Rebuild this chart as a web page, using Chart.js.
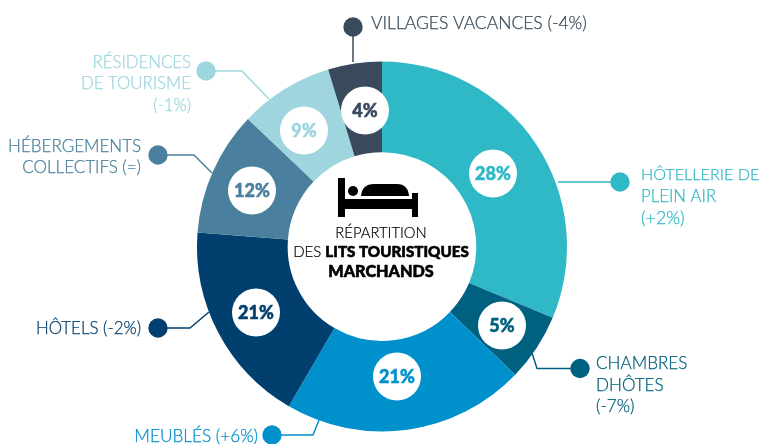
<!DOCTYPE html>
<html><head><meta charset="utf-8">
<style>html,body{margin:0;padding:0;background:#fff}#w{position:relative;width:759px;height:444px}</style>
<script src="https://cdn.jsdelivr.net/npm/chart.js@4/dist/chart.umd.min.js"></script>
</head><body><div id="w"><canvas id="c" width="759" height="444"></canvas></div>
<script>
// Category names, as printed
const categories = ["Hôtellerie de plein air","Chambres d'hôtes","Meublés","Hôtels","Hébergements collectifs","Résidences de tourisme","Villages vacances"];
// Printed percentages
const printedShares = [28,5,21,21,12,9,4];
// Slice sizes as actually drawn in the picture (measured from the arc angles)
const drawnShares = [31.3,5.9,21.2,17.8,10.9,8.2,4.7];
const colors = ["#2FB8C6","#00607F","#0090CC","#003F6E","#4A809E","#9ED5DF","#384A5C"];
const FONT = 'Lato, "Noto Sans", sans-serif';

// Annotation layout (badges are offsets from the doughnut centre)
const badges = [[111,-73],[120,79],[15,130],[-126,66],[-130,-56],[-78,-116],[-17,-136]];
const callouts = [
 {i:0,s:[16.2,16.8,17.8],lines:["HÔTELLERIE DE","PLEIN AIR","(+2%)"],x:641,y:[175,197,218],a:"left",dot:[620,182],path:[[558,182]]},
 {i:1,s:[17.1,17.1,17.1],lines:["CHAMBRES","DHÔTES","(-7%)"],x:596,y:[363,385,406],a:"left",dot:[580,368.5],path:[[537,368.5],[532,353]]},
 {i:2,s:[17.2],lines:["MEUBLÉS (+6%)"],x:258,y:[436],a:"right",dot:[272,435],path:[[313,435],[319,420]]},
 {i:3,s:[16.9],lines:["HÔTELS (-2%)"],x:141,y:[329],a:"right",dot:[158,328],path:[[190,328],[209,312]]},
 {i:4,s:[17,17],lines:["HÉBERGEMENTS","COLLECTIFS (=)"],x:141,y:[147,168],a:"right",dot:[158,155],path:[[194,155],[212,173]]},
 {i:5,s:[16.8,16.8,16.8],lines:["RÉSIDENCES","DE TOURISME","(-1%)"],x:191,y:[63,84,106],a:"right",dot:[206,71],path:[[242,71],[269,99]]},
 {i:6,s:[17.5],lines:["VILLAGES VACANCES (-4%)"],x:371,y:[23],a:"left",dot:[353,27],path:[[353,62]]}
];

const overlay = {
 id:"overlay",
 afterDatasetsDraw(chart){
  const g = chart.ctx, arc = chart.getDatasetMeta(0).data[0], cx = arc.x, cy = arc.y;
  g.save();
  g.textBaseline = "middle";
  function heavy(t,x,y,w){ g.lineWidth = w; g.strokeStyle = g.fillStyle; g.strokeText(t,x,y); g.fillText(t,x,y); }
  // callouts
  callouts.forEach(c=>{
   const col = colors[c.i];
   g.strokeStyle = col; g.lineWidth = 1.5; g.lineJoin = "round";
   g.beginPath(); g.moveTo(c.dot[0],c.dot[1]);
   c.path.forEach(p=>g.lineTo(p[0],p[1])); g.stroke();
   g.fillStyle = col;
   g.beginPath(); g.arc(c.dot[0],c.dot[1],9.7,0,Math.PI*2); g.fill();
   g.textAlign = c.a;
   c.lines.forEach((t,k)=>{ g.font = "300 "+c.s[k]+"px "+FONT; heavy(t,c.x,c.y[k],0.25); });
  });
  // value badges
  printedShares.forEach((v,i)=>{
   const x = cx+badges[i][0], y = cy+badges[i][1];
   g.fillStyle = "#fff";
   g.beginPath(); g.arc(x,y,24,0,Math.PI*2); g.fill();
   g.fillStyle = colors[i];
   g.font = "900 18px "+FONT; g.textAlign = "center";
   heavy(v+"%",x,y+0.5,0.5);
  });
  // bed icon
  g.fillStyle = "#000";
  g.fillRect(338,178,7,39);
  g.fillRect(412,193,6,24);
  g.fillRect(345,199,67,10);
  g.beginPath(); g.arc(353,191,5,0,Math.PI*2); g.fill();
  g.beginPath();
  g.moveTo(361,196); g.quadraticCurveTo(362,184,374,184);
  g.lineTo(397,184); g.quadraticCurveTo(408,184,409,196); g.closePath(); g.fill();
  // centre title
  g.textAlign = "center";
  g.font = "300 14.8px "+FONT;
  heavy("RÉPARTITION",381,233,0.2);
  const a = "DES ", b = "LITS TOURISTIQUES";
  g.font = "300 15px "+FONT; const wa = g.measureText(a).width;
  g.font = "900 15.2px "+FONT; const wb = g.measureText(b).width;
  const x0 = 381-(wa+wb)/2;
  g.textAlign = "left";
  g.font = "300 15px "+FONT; heavy(a,x0,252,0.2);
  g.font = "900 15.2px "+FONT; heavy(b,x0+wa,252,0.6);
  g.textAlign = "center";
  g.font = "900 16.2px "+FONT;
  heavy("MARCHANDS",381,272,0.6);
  g.restore();
 }
};

new Chart(document.getElementById("c"),{
 type:"doughnut",
 data:{labels:categories,datasets:[{data:drawnShares,backgroundColor:colors,borderWidth:0}]},
 options:{
  responsive:false,animation:false,cutout:"51%",
  layout:{padding:{left:197,right:192,top:61.5,bottom:12.5}},
  plugins:{legend:{display:false},tooltip:{enabled:false}}
 },
 plugins:[overlay]
});
</script></body></html>
